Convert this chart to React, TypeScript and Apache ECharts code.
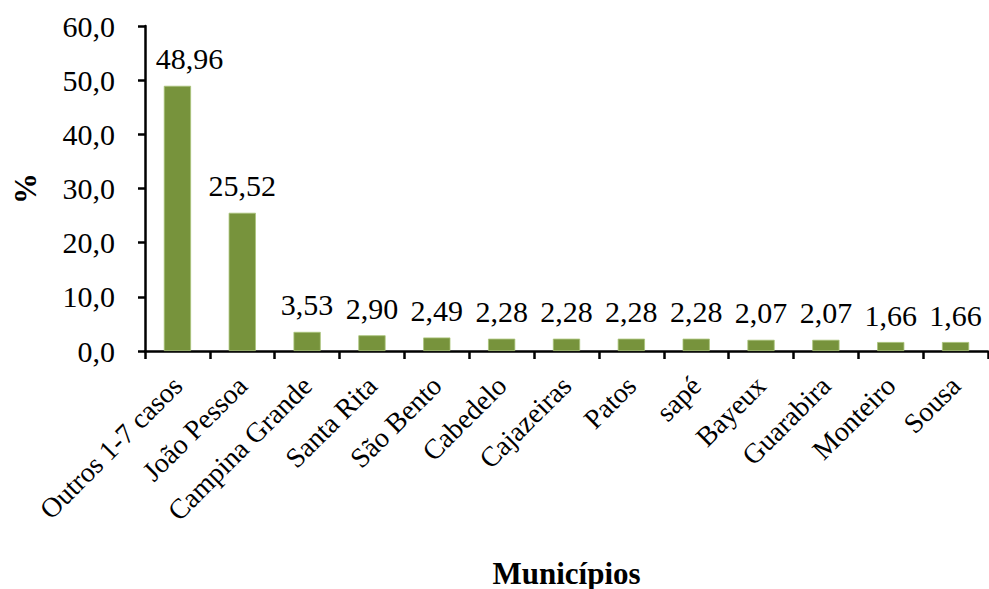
import React, { useEffect, useRef } from "react";
import * as echarts from "echarts";

const categories = [
  "Outros 1-7 casos",
  "João Pessoa",
  "Campina Grande",
  "Santa Rita",
  "São Bento",
  "Cabedelo",
  "Cajazeiras",
  "Patos",
  "sapé",
  "Bayeux",
  "Guarabira",
  "Monteiro",
  "Sousa",
];
const values = [48.96, 25.52, 3.53, 2.9, 2.49, 2.28, 2.28, 2.28, 2.28, 2.07, 2.07, 1.66, 1.66];

const FONT = "'Liberation Serif', 'Times New Roman', serif";

export default function App() {
  const ref = useRef<HTMLDivElement>(null);
  useEffect(() => {
    const chart = echarts.init(ref.current!, null, { renderer: "svg" });
    chart.setOption({
      animation: false,
      backgroundColor: "#ffffff",
      grid: { left: 145, top: 26, right: 1, bottom: 238, containLabel: false, outerBoundsMode: "none" },
      xAxis: {
        type: "category",
        data: categories,
        name: "Municípios",
        nameLocation: "middle",
        nameGap: 222,
        nameMoveOverlap: false,
        nameTextStyle: {
          fontFamily: FONT,
          fontSize: 31,
          fontWeight: "bold",
          color: "#000",
          align: "center",
          verticalAlign: "middle",
        },
        axisLine: { lineStyle: { color: "#000", width: 2.5 } },
        axisTick: { show: true, alignWithLabel: false, length: 8, lineStyle: { color: "#000", width: 2.5 } },
        axisLabel: {
          rotate: 45,
          interval: 0,
          margin: 30,
          fontFamily: FONT,
          fontSize: 28,
          color: "#000",
        },
      },
      yAxis: {
        type: "value",
        min: 0,
        max: 60,
        interval: 10,
        name: "%",
        nameLocation: "middle",
        nameGap: 120,
        nameRotate: 90,
        nameMoveOverlap: false,
        nameTextStyle: {
          fontFamily: FONT,
          fontSize: 31,
          fontWeight: "bold",
          color: "#000",
          align: "center",
          verticalAlign: "middle",
        },
        axisLine: { show: true, lineStyle: { color: "#000", width: 2.5 } },
        axisTick: { show: true, inside: false, length: 7, lineStyle: { color: "#000", width: 2.5 } },
        splitLine: { show: false },
        axisLabel: {
          margin: 30,
          fontFamily: FONT,
          fontSize: 30,
          color: "#000",
          formatter: (v: number) => v.toFixed(1).replace(".", ","),
        },
      },
      series: [
        {
          type: "bar",
          data: values.map((v, i) => (i === 0 ? { value: v, label: { offset: [12, 0] } } : v)),
          barWidth: "42%",
          itemStyle: { color: "#77933C", borderColor: "#a9c47a", borderWidth: 0.8 },
          label: {
            show: true,
            position: "top",
            distance: 12,
            fontFamily: FONT,
            fontSize: 30,
            color: "#000",
            formatter: (p: any) => p.value.toFixed(2).replace(".", ","),
          },
        },
      ],
    });
    return () => chart.dispose();
  }, []);
  return <div ref={ref} style={{ width: 989, height: 589, position: "absolute", left: 0, top: 0 }} />;
}
